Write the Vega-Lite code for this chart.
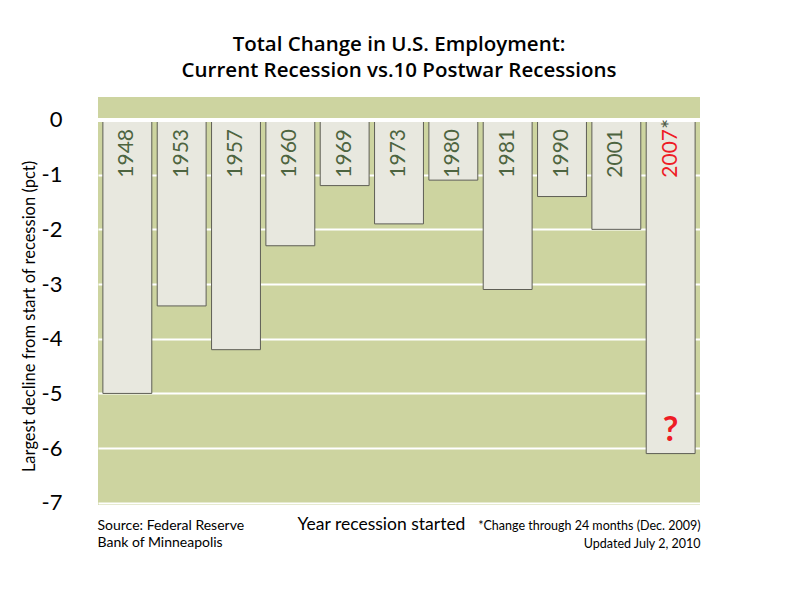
{
  "$schema": "https://vega.github.io/schema/vega-lite/v6.json",
  "width": 602,
  "height": 408,
  "autosize": {"type": "none"},
  "padding": {"left": 98, "top": 97, "right": 100, "bottom": 99},
  "background": "white",
  "title": {
    "text": ["Total Change in U.S. Employment:", "Current Recession vs.10 Postwar Recessions"],
    "fontSize": 20.5,
    "font": "Open Sans",
    "fontWeight": 600,
    "color": "black",
    "anchor": "middle",
    "frame": "group",
    "lineHeight": 26,
    "offset": 16
  },
  "config": {
    "font": "Lato",
    "view": {"fill": "#cdd4a0", "stroke": null}
  },
  "data": {
    "values": [
      {"year": "1948", "value": -5.0},
      {"year": "1953", "value": -3.4},
      {"year": "1957", "value": -4.2},
      {"year": "1960", "value": -2.3},
      {"year": "1969", "value": -1.2},
      {"year": "1973", "value": -1.9},
      {"year": "1980", "value": -1.1},
      {"year": "1981", "value": -3.1},
      {"year": "1990", "value": -1.4},
      {"year": "2001", "value": -2.0},
      {"year": "2007", "value": -6.1}
    ]
  },
  "resolve": {"axis": {"x": "independent"}},
  "layer": [
    {
      "mark": {"type": "bar", "fill": "#e8e8df", "stroke": "#5e5e55", "strokeWidth": 1},
      "encoding": {
        "x": {
          "field": "year", "type": "nominal", "sort": null,
          "scale": {"domain": ["1948","1953","1957","1960","1969","1973","1980","1981","1990","2001","2007"], "paddingInner": 0.1, "paddingOuter": 0.09},
          "axis": {
            "orient": "bottom", "labels": false, "ticks": false, "domain": false, "grid": false,
            "title": "Year recession started", "titleFontSize": 17.5, "titleFontWeight": "normal", "titleColor": "black",
            "titleX": 283, "titleY": 24, "titleAlign": "center", "titleBaseline": "alphabetic", "titleAnchor": null
          }
        },
        "y": {
          "field": "value", "type": "quantitative",
          "scale": {"domain": [-7.04, 0.42], "nice": false, "zero": false},
          "axis": {
            "values": [-7, -6, -5, -4, -3, -2, -1, 0],
            "labelExpr": "'' + datum.value",
            "title": "Largest decline from start of recession (pct)",
            "titleFontSize": 16.5, "titleFontWeight": "normal", "titleColor": "black",
            "titleX": -69, "titleY": 219, "titleAngle": -90, "titleBaseline": "middle", "titleAlign": "center",
            "labelFontSize": 22, "labelColor": "black", "labelPadding": 36,
            "ticks": false, "domain": false, "grid": true, "gridColor": "white", "gridWidth": 2
          }
        },
        "y2": {"datum": 0}
      }
    },
    {
      "mark": {"type": "rule", "color": "white", "strokeWidth": 4},
      "encoding": {"y": {"datum": 0, "type": "quantitative"}}
    },
    {
      "mark": {"type": "text", "angle": -90, "align": "right", "baseline": "middle", "fontSize": 21, "dx": -9},
      "encoding": {
        "x": {
          "field": "year", "type": "nominal", "sort": null,
          "axis": {
            "orient": "bottom", "labels": false, "ticks": false, "domain": false, "grid": false,
            "title": ["Source: Federal Reserve", "Bank of Minneapolis"], "titleFontSize": 14, "titleFontWeight": "normal", "titleColor": "black",
            "titleX": -1, "titleY": 24, "titleAlign": "left", "titleBaseline": "alphabetic", "titleLineHeight": 17, "titleAnchor": null
          }
        },
        "y": {"datum": 0, "type": "quantitative"},
        "text": {"field": "year"},
        "color": {
          "condition": {"test": "datum.year === '2007'", "value": "#ee1c25"},
          "value": "#4d6440"
        }
      }
    },
    {
      "transform": [{"filter": "datum.year === '2007'"}],
      "mark": {"type": "text", "angle": -90, "align": "left", "baseline": "middle", "fontSize": 24, "dx": -9, "color": "#4d5a45"},
      "encoding": {
        "x": {"field": "year", "type": "nominal", "sort": null, "axis": null},
        "y": {"datum": 0, "type": "quantitative"},
        "text": {"value": "*"}
      }
    },
    {
      "data": {"values": [{"year": "2007", "value": -5.68, "sign": "?"}]},
      "mark": {"type": "text", "align": "center", "baseline": "middle", "fontSize": 34, "fontWeight": "bold", "color": "#ee1c25"},
      "encoding": {
        "x": {
          "field": "year", "type": "nominal", "sort": null,
          "axis": {
            "orient": "bottom", "labels": false, "ticks": false, "domain": false, "grid": false,
            "title": ["*Change through 24 months (Dec. 2009)", "Updated July 2, 2010"], "titleFontSize": 12.5, "titleFontWeight": "normal", "titleColor": "black",
            "titleX": 602, "titleY": 24, "titleAlign": "right", "titleBaseline": "alphabetic", "titleLineHeight": 18, "titleAnchor": null
          }
        },
        "y": {"field": "value", "type": "quantitative"},
        "text": {"field": "sign"}
      }
    }
  ]
}
